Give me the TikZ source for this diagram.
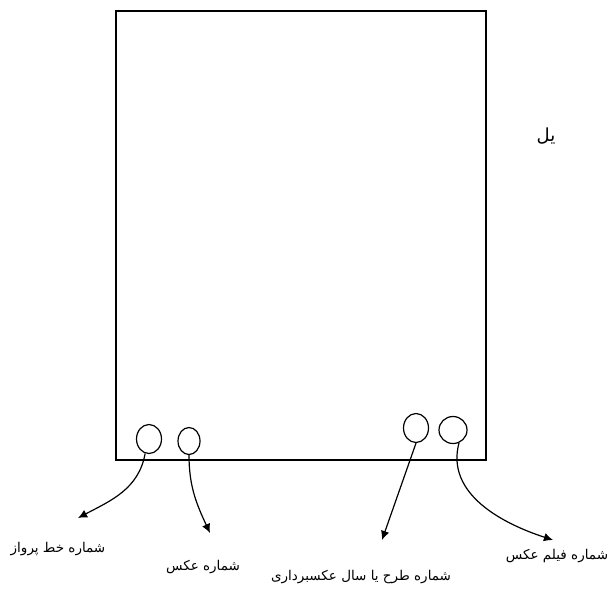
\documentclass[tikz,border=0pt]{standalone}
\usepackage{fontspec}
\usepackage{tikz}
\usetikzlibrary{positioning,arrows.meta,shapes.geometric}
\newfontfamily\farsi[Script=Arabic]{DejaVu Sans}
\TeXXeTstate=1
\tikzset{
frame/.style={
draw,
line width=1.6pt
},
ring/.style={
draw,
ellipse,
inner sep=0pt,
minimum width=25pt,
minimum height=29pt,
line width=1.2pt
},
lbl/.style={
inner sep=1pt,
font=\farsi\fontsize{13.5}{16}\selectfont
},
arrow/.style={
-{Latex[length=3.2mm,width=3mm]},
line width=1.2pt
}
}

\begin{document}
\begin{tikzpicture}[x=1pt,y=-1pt]
\useasboundingbox (0,0) rectangle (609,590);
\draw[frame] (116,11) rectangle (486,460);

% circles on the lower edge
\node[ring] (c1) at (149,439) {};
\node[ring,minimum width=22pt,minimum height=27pt] (c2) at (189,441) {};
\node[ring] (c3) at (416,428) {};
\node[ring,minimum width=28pt,minimum height=27pt] (c4) at (453,430) {};

\coordinate (t1) at (78,518);
\coordinate (t2) at (210,533);
\coordinate (t3) at (382,540);
\coordinate (t4) at (553,540);

\node[lbl] (l1) at (58,549) {\beginR شماره خط پرواز\endR};
\node[lbl] (l2) at (203,567) {\beginR شماره عکس\endR};
\node[lbl] (l3) at (361,577) {\beginR شماره طرح یا سال عکسبرداری\endR};
\node[lbl] (l4) at (557,556) {\beginR شماره فیلم عکس\endR};
\node[lbl,font=\farsi\fontsize{18}{20}\selectfont] (top) at (546,136) {\beginR یل\endR};

\draw[arrow] (c1.-105) to[out=-100,in=28] (t1);
\draw[arrow] (c2.south) to[out=-90,in=115] (t2);
\draw[arrow] (c3.south) -- (t3);
\draw[arrow] (c4.-65) to[out=-105,in=162] (t4);
\end{tikzpicture}
\end{document}
